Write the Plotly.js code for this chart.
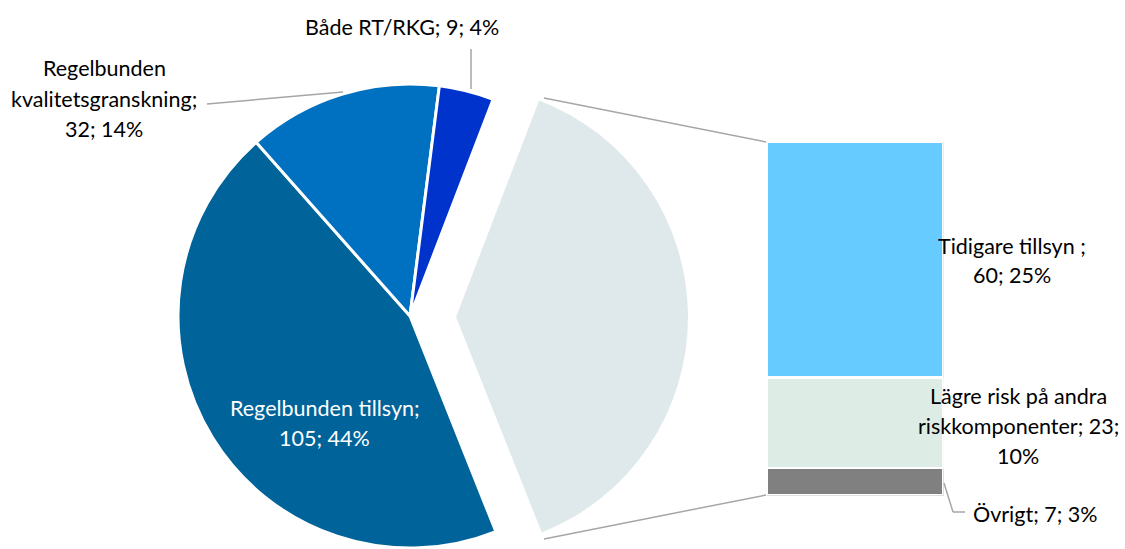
<!DOCTYPE html>
<html><head><meta charset="utf-8">
<script src="https://cdn.plot.ly/plotly-3.0.1.min.js"></script>
<style>html,body{margin:0;padding:0;background:#fff}</style>
</head><body>
<div id="chart" style="width:1125px;height:549px"></div>
<script>
// Main pie data (order clockwise from the exploded slice)
const pieLabels = ["Övriga skäl", "Regelbunden tillsyn", "Regelbunden kvalitetsgranskning", "Både RT/RKG"];
const pieValues = [90, 105, 32, 9];
const pieColors = ["#DFE9EC", "#006399", "#0070C0", "#0033CC"];
// Breakdown bar data (bottom to top)
const barLabels = ["Övrigt", "Lägre risk på andra riskkomponenter", "Tidigare tillsyn "];
const barValues = [7, 23, 60];
const barColors = ["#808080", "#DDEDE6", "#66CCFF"];

const W = 1125, H = 549;
const total = pieValues.reduce((a, b) => a + b, 0);
const pct = v => Math.round(100 * v / total) + "%";

const FONT = "Lato, 'Open Sans', sans-serif";
const FS = 21.5;

const R = 232;
const transparent = "rgba(0,0,0,0)";

const pieA = {
  type: "pie", values: pieValues, labels: pieLabels, sort: false, direction: "clockwise", rotation: 21,
  marker: { colors: pieColors.map((c, i) => i === 0 ? transparent : c), line: { color: "#fff", width: 3 } },
  textinfo: "none", hoverinfo: "skip", showlegend: false,
  domain: { x: [(410 - R) / W, (410 + R) / W], y: [(H - 316 - R) / H, (H - 316 + R) / H] }
};
const pieB = {
  type: "pie", values: pieValues, labels: pieLabels, sort: false, direction: "clockwise", rotation: 21,
  marker: { colors: pieColors.map((c, i) => i === 0 ? c : transparent), line: { width: 0 } },
  textinfo: "none", hoverinfo: "skip", showlegend: false,
  domain: { x: [(456 - R) / W, (456 + R) / W], y: [0, (2 * R) / H] }
};

const bars = barLabels.map((name, i) => ({
  type: "bar", x: [0], y: [barValues[i]], name: name,
  marker: { color: barColors[i], line: { color: "#fff", width: 2.5 } },
  xaxis: "x", yaxis: "y", hoverinfo: "skip", showlegend: false, width: 1
}));

const barTop = 141.5, barBot = 495.5;
const layout = {
  width: W, height: H, margin: { l: 0, r: 0, t: 0, b: 0 },
  paper_bgcolor: "#fff", plot_bgcolor: "rgba(0,0,0,0)",
  barmode: "stack", bargap: 0,
  font: { family: FONT, size: FS, color: "#000" },
  xaxis: { domain: [766.5 / W, 943.5 / W], range: [-0.5, 0.5], visible: false, fixedrange: true },
  yaxis: { domain: [(H - barBot) / H, (H - barTop) / H], range: [0, barValues.reduce((a, b) => a + b, 0)], visible: false, fixedrange: true },
  annotations: [],
  shapes: []
};

function annLines(lines, px, py0, dy, color) {
  lines.forEach((t, k) => layout.annotations.push({
    text: t, xref: "paper", yref: "paper", x: px / W, y: 1 - (py0 + k * dy) / H,
    xanchor: "center", yanchor: "middle", showarrow: false, align: "center",
    font: { family: FONT, size: FS, color: color || "#000" }
  }));
}
function line(x0, y0, x1, y1) {
  layout.shapes.push({ type: "line", xref: "paper", yref: "paper",
    x0: x0 / W, y0: 1 - y0 / H, x1: x1 / W, y1: 1 - y1 / H,
    line: { color: "#A6A6A6", width: 1.5 } });
}

annLines([pieLabels[3] + "; " + pieValues[3] + "; " + pct(pieValues[3])], 402, 27, 0);
annLines(["Regelbunden", "kvalitetsgranskning;", pieValues[2] + "; " + pct(pieValues[2])], 104, 68, 30.5);
annLines(["Regelbunden tillsyn;", pieValues[1] + "; " + pct(pieValues[1])], 325, 408, 29.5, "#fff");
annLines([barLabels[2] + ";", barValues[2] + "; " + pct(barValues[2])], 1012, 246, 29);
annLines(["Lägre risk på andra", "riskkomponenter; " + barValues[1] + ";", pct(barValues[1])], 1018, 396, 30);
annLines([barLabels[0] + "; " + barValues[0] + "; " + pct(barValues[0])], 1035, 514, 0);

line(471, 49, 471, 89);
line(207, 104, 343, 92);
line(544, 98, 766, 142);
line(544, 539, 766, 495);
line(944, 483, 953, 512);
line(953, 512, 965, 512);

Plotly.newPlot("chart", [pieA, pieB, ...bars], layout, { staticPlot: true });
</script>
</body></html>
